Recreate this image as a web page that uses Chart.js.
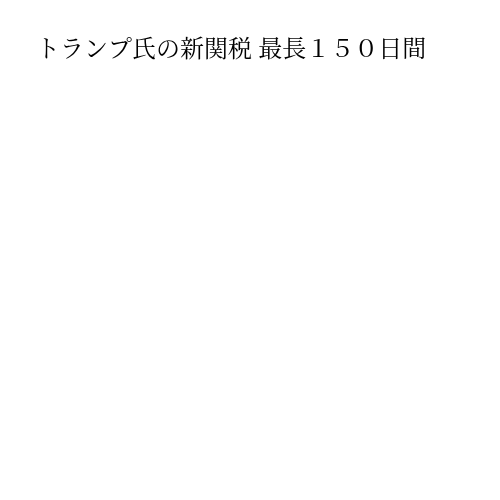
<!DOCTYPE html>
<html>
<head>
<meta charset="utf-8">
<script src="https://cdn.jsdelivr.net/npm/chart.js@4"></script>
<style>
  body { margin: 0; background: #fff; }
  #wrap { width: 500px; height: 500px; }
</style>
</head>
<body>
<div id="wrap"><canvas id="grafico"></canvas></div>
<script>
// タイトルのみ（データなし）
const titulo = "トランプ氏の新関税 最長１５０日間";
const categorias = [];
const valores = [];

new Chart(document.getElementById("grafico"), {
    type: "bar",
    data: {
        labels: categorias,
        datasets: [{
            label: "",
            data: valores,
            backgroundColor: "#4d79ff"
        }]
    },
    options: {
        responsive: true,
        maintainAspectRatio: false,
        animation: false,
        layout: { padding: { left: 36, top: 33, right: 10, bottom: 20 } },
        plugins: {
            legend: { display: false },
            tooltip: { enabled: false },
            title: {
                display: true,
                text: titulo,
                align: "start",
                color: "#000",
                font: { family: "'Noto Serif CJK JP', 'Noto Sans CJK JP', serif", size: 24, weight: "normal" },
                padding: { top: 0, bottom: 10 }
            }
        },
        scales: {
            x: { display: false },
            y: { display: false }
        }
    }
});
</script>
</body>
</html>
